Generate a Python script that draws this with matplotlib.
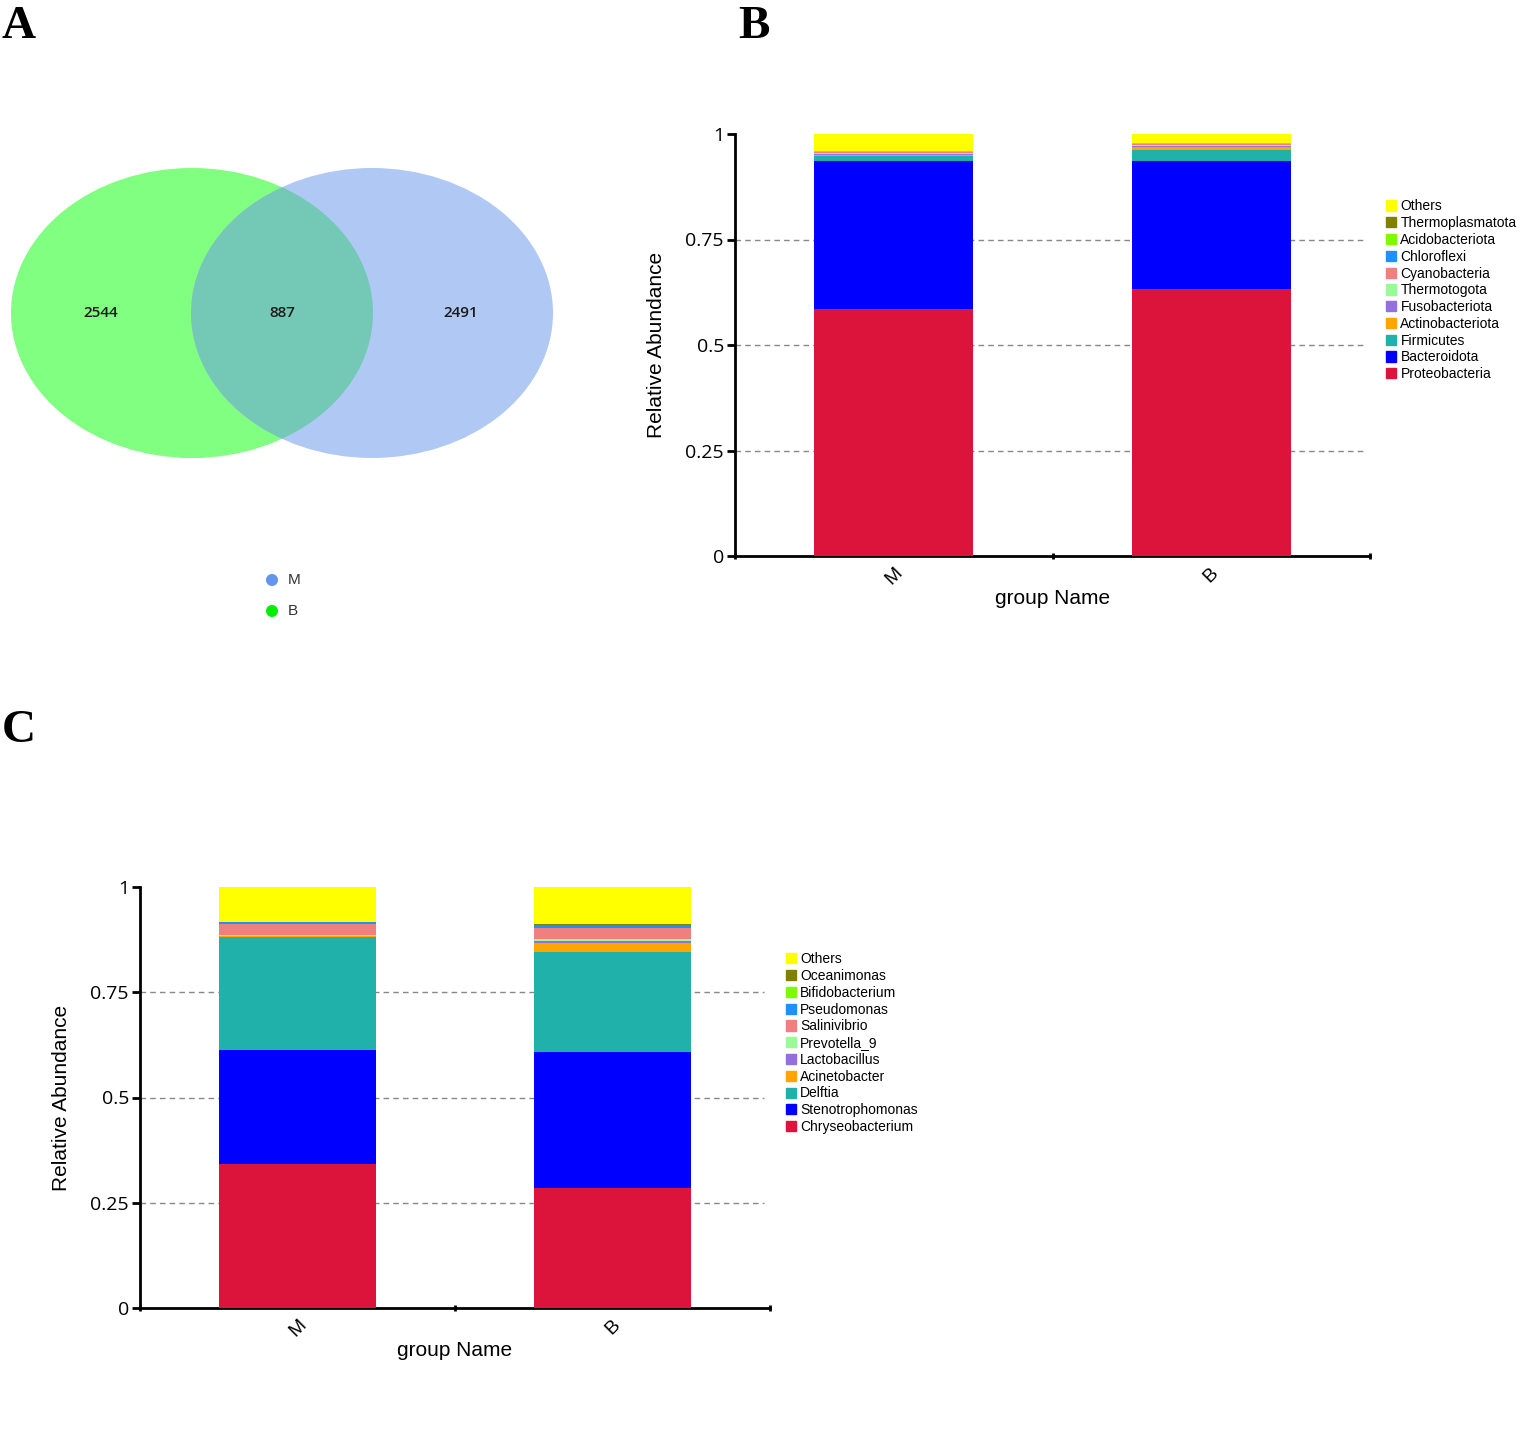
import matplotlib
matplotlib.use("Agg")
import matplotlib.pyplot as plt
from matplotlib.patches import Ellipse, Patch
import numpy as np

# ---- data ----
groups = ["M", "B"]

venn_sets = ["M", "B"]
venn_counts = [2544, 887, 2491]  # only B(left), shared, only M(right)

phylum_names = ["Proteobacteria", "Bacteroidota", "Firmicutes", "Actinobacteriota",
                "Fusobacteriota", "Thermotogota", "Cyanobacteria", "Chloroflexi",
                "Acidobacteriota", "Thermoplasmatota", "Others"]
phylum_M = [0.585, 0.351, 0.012, 0.003, 0.001, 0.002, 0.003, 0.001, 0.001, 0.001, 0.040]
phylum_B = [0.633, 0.304, 0.025, 0.008, 0.002, 0.002, 0.002, 0.001, 0.001, 0.001, 0.021]

genus_names = ["Chryseobacterium", "Stenotrophomonas", "Delftia", "Acinetobacter",
               "Lactobacillus", "Prevotella_9", "Salinivibrio", "Pseudomonas",
               "Bifidobacterium", "Oceanimonas", "Others"]
genus_M = [0.342, 0.271, 0.269, 0.001, 0.001, 0.002, 0.026, 0.004, 0.001, 0.001, 0.082]
genus_B = [0.285, 0.323, 0.238, 0.021, 0.005, 0.004, 0.026, 0.007, 0.001, 0.002, 0.088]

palette = ["#DC143C", "#0000FF", "#20B2AA", "#FFA500", "#9370DB", "#98FB98",
           "#F08080", "#1E90FF", "#7CFC00", "#808000", "#FFFF00"]

W, H = 1535, 1454
fig = plt.figure(figsize=(W / 100, H / 100), dpi=100)


def px_axes(x0, y0, x1, y1):
    return fig.add_axes([x0 / W, 1 - y1 / H, (x1 - x0) / W, (y1 - y0) / H])


def stacked(ax, names, vals_m, vals_b, legend_xy):
    data = np.array([vals_m, vals_b])
    x = np.arange(len(groups))
    bottom = np.zeros(len(groups))
    for i, name in enumerate(names):
        ax.bar(x, data[:, i], bottom=bottom, width=0.5, color=palette[i],
               linewidth=0, zorder=3)
        bottom += data[:, i]
    ax.set_xlim(-0.5, 1.5)
    ax.set_ylim(0, 1)
    for s in ["top", "right"]:
        ax.spines[s].set_visible(False)
    for s in ["left", "bottom"]:
        ax.spines[s].set_linewidth(2)
    ax.set_yticks([0, 0.25, 0.5, 0.75, 1])
    ax.set_yticklabels(["0", "0.25", "0.5", "0.75", "1"], family="Open Sans", fontsize=14)
    ax.tick_params(axis="y", length=6, width=2, pad=2)
    for yv in [0.25, 0.5, 0.75]:
        ax.plot([-0.5, 1.48], [yv, yv], ls=(0, (4, 3)), color="#888888", lw=1, zorder=1)
    ax.set_xticks(x)
    ax.set_xticklabels(groups, rotation=45, fontsize=14, family="Liberation Sans",
                       ha="center", va="top")
    ax.tick_params(axis="x", length=0, pad=6)
    ax.set_xticks([-0.5, 0.5, 1.5], minor=True)
    ax.tick_params(axis="x", which="minor", length=5, width=2, direction="inout")
    ax.set_xlabel("group Name", fontsize=15, family="Liberation Sans", labelpad=1)
    ax.set_ylabel("Relative Abundance", fontsize=15, family="Liberation Sans", labelpad=14)
    handles = [Patch(color=palette[i], label=names[i]) for i in range(len(names))][::-1]
    ax.legend(handles=handles, loc="upper left", bbox_to_anchor=legend_xy,
              frameon=False, handlelength=0.75, handleheight=0.75,
              handletextpad=0.3, labelspacing=0.2, borderpad=0, borderaxespad=0,
              prop={"family": "Liberation Sans", "size": 10})


# ---- panel A: Venn ----
axA = px_axes(0, 150, 560, 640)
axA.set_xlim(0, 560)
axA.set_ylim(640, 150)
axA.axis("off")
green = Ellipse((192, 313), 362, 290, color="#80FF80", lw=0)
blue = Ellipse((372, 313), 362, 290, color="#B0C8F4", lw=0)
axA.add_patch(green)
axA.add_patch(blue)
overlap = Ellipse((372, 313), 362, 290, color="#74C8B6", lw=0)
axA.add_patch(overlap)
overlap.set_clip_path(Ellipse((192, 313), 362, 290, transform=axA.transData))
for xv, cnt in zip([101, 282, 461], venn_counts):
    axA.text(xv, 313, str(cnt), ha="center", va="center", fontsize=11,
             family="Open Sans", fontweight="semibold", color="#1a1a1a")
axA.scatter([272, 272], [580, 611], s=75, c=["#6495ED", "#00EE00"], lw=0)
for yv, name in zip([580, 611], venn_sets):
    axA.text(288, yv, name, ha="left", va="center", fontsize=11,
             family="Liberation Sans", color="#333333")

# ---- panel B: phylum ----
axB = px_axes(735, 134, 1370, 556)
stacked(axB, phylum_names, phylum_M, phylum_B, (1.025, 0.845))

# ---- panel C: genus ----
axC = px_axes(140, 887, 770, 1308)
stacked(axC, genus_names, genus_M, genus_B, (1.025, 0.845))

for lbl, xx, yy in [("A", 2, 38), ("B", 738, 38), ("C", 2, 742)]:
    fig.text(xx / W, 1 - yy / H, lbl, fontsize=34, fontweight="bold",
             family="Liberation Serif", ha="left", va="baseline")

fig.savefig("out.png", dpi=100)
